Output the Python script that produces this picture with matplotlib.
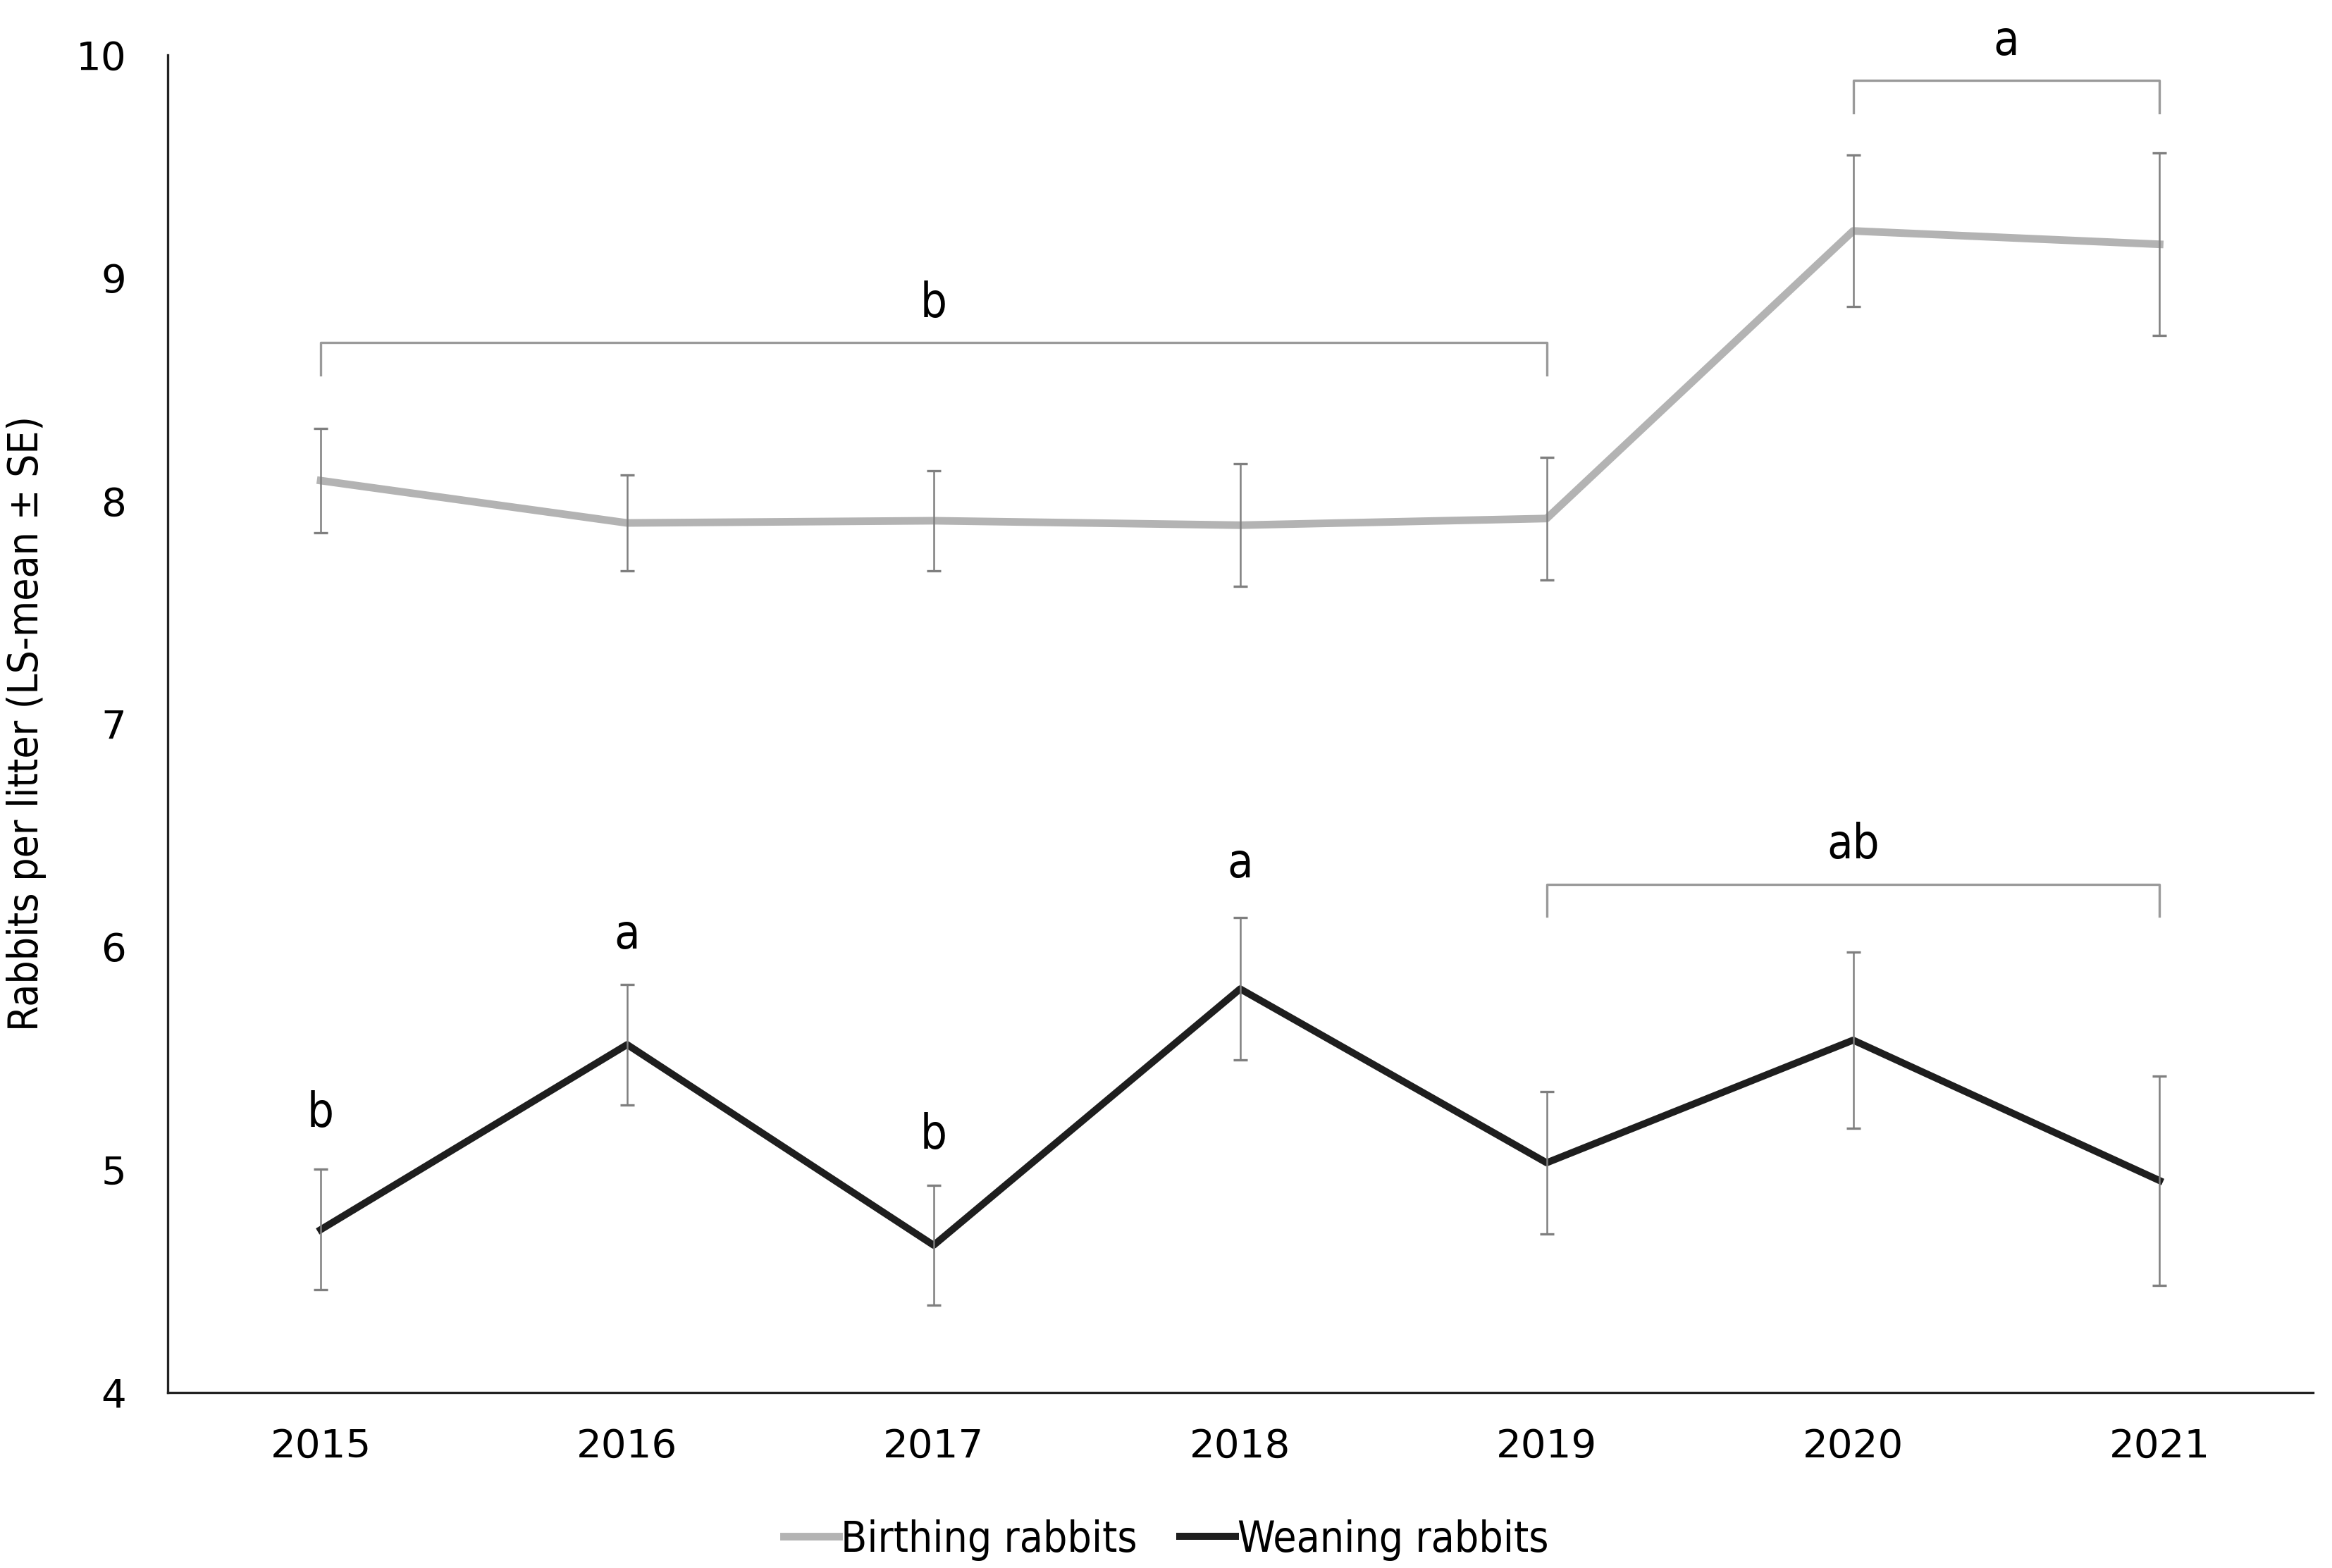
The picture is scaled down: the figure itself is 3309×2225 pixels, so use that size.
import matplotlib
matplotlib.use("Agg")
import matplotlib.pyplot as plt
from matplotlib import font_manager
import numpy as np

years = ["2015", "2016", "2017", "2018", "2019", "2020", "2021"]
birthing = [8.09, 7.90, 7.91, 7.89, 7.92, 9.21, 9.15]
birthing_se = [0.235, 0.215, 0.225, 0.275, 0.275, 0.34, 0.41]
weaning = [4.73, 5.56, 4.66, 5.81, 5.03, 5.58, 4.95]
weaning_se = [0.27, 0.27, 0.27, 0.32, 0.32, 0.395, 0.47]

# letters above single points (weaning)
point_letters = [(0, "b", 5.25), (1, "a", 6.05), (2, "b", 5.155), (3, "a", 6.37)]
# brackets: (start, end, bar level, label)
brackets = [(0, 4, 8.71, "b"), (5, 6, 9.885, "a"), (4, 6, 6.28, "ab")]

narrow = font_manager.FontProperties(family="DejaVu Sans", stretch="condensed")


def nfont(size):
    p = narrow.copy()
    p.set_size(size)
    return p


fig = plt.figure(figsize=(11.03, 7.417), dpi=300)
ax = fig.add_axes([0.0718, 0.112, 0.920, 0.853])

x = np.arange(len(years))
ax.plot(x, birthing, color="#b3b3b3", lw=2.6, label="Birthing rabbits", zorder=2)
ax.plot(x, weaning, color="#1e1e1e", lw=2.4, label="Weaning rabbits", zorder=2)
ax.errorbar(x, birthing, yerr=birthing_se, fmt="none", ecolor="#7f7f7f",
            elinewidth=0.6, capsize=2.5, capthick=0.8, zorder=3)
ax.errorbar(x, weaning, yerr=weaning_se, fmt="none", ecolor="#7f7f7f",
            elinewidth=0.6, capsize=2.5, capthick=0.8, zorder=3)

for i, txt, y in point_letters:
    ax.text(i, y, txt, ha="center", va="center", fontproperties=nfont(16))

for a, b, y, txt in brackets:
    drop = 0.145
    ax.plot([a, a, b, b], [y - drop, y, y, y - drop], color="#9a9a9a",
            lw=0.8, solid_joinstyle="round", clip_on=False)
    ax.text((a + b) / 2, y + 0.175, txt, ha="center", va="center",
            fontproperties=nfont(16), clip_on=False)

ax.set_xlim(-0.5, 6.5)
ax.set_ylim(4, 10)
ax.set_xticks(x)
ax.set_xticklabels(years)
ax.set_yticks(range(4, 11))
ax.tick_params(length=0, labelsize=13.5)
ax.tick_params(axis="y", pad=14)
ax.tick_params(axis="x", pad=12)
for s in ["top", "right"]:
    ax.spines[s].set_visible(False)
for s in ["left", "bottom"]:
    ax.spines[s].set_linewidth(0.8)
    ax.spines[s].set_color("#222222")

ax.set_ylabel("Rabbits per litter (LS-mean ± SE)", fontproperties=nfont(14),
              labelpad=10)

leg = fig.legend(loc="center", bbox_to_anchor=(0.5, 0.018), ncol=2, frameon=False,
                 handlelength=1.3, handletextpad=0.05, columnspacing=1.0,
                 prop=nfont(14.5))

fig.savefig("out.png", dpi=300)
